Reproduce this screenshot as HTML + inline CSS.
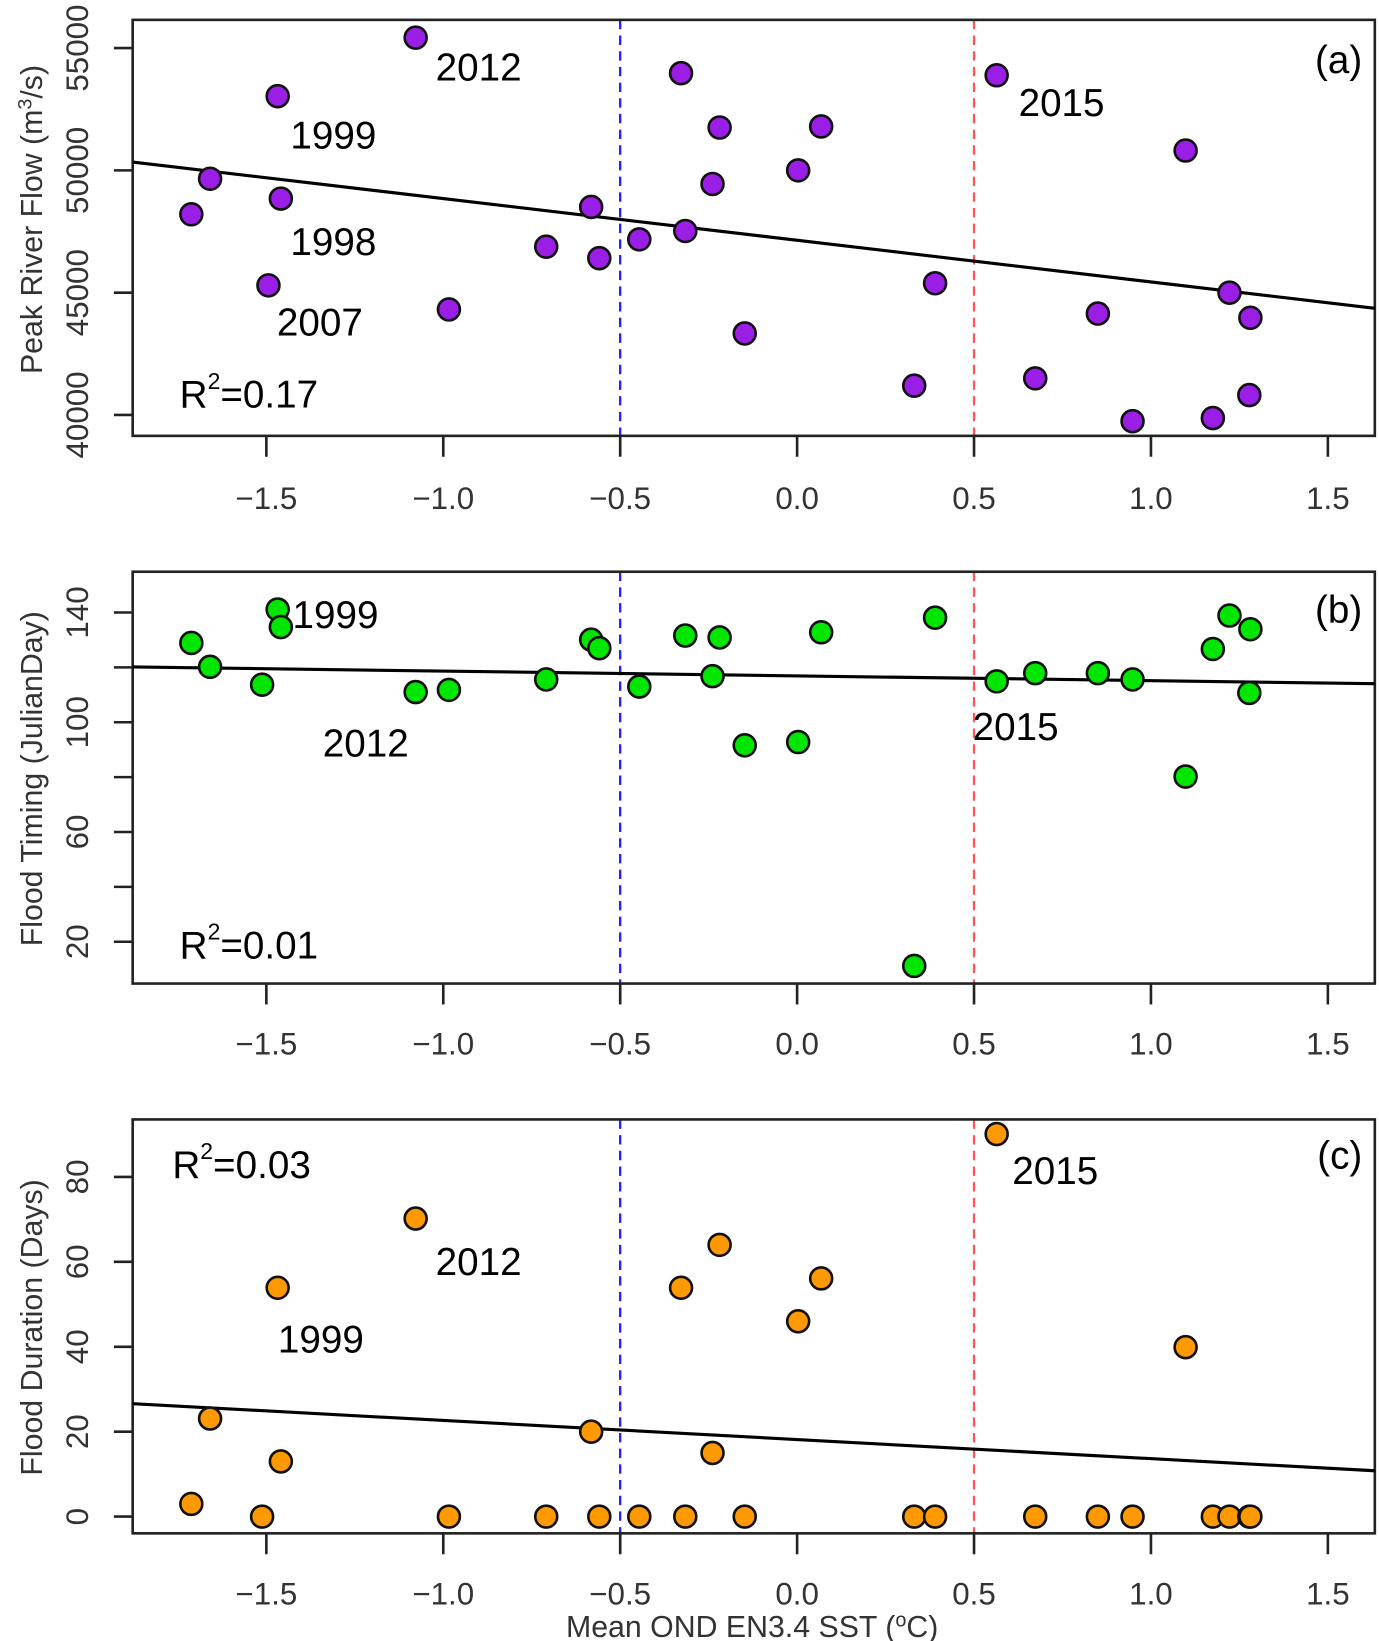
<!DOCTYPE html>
<html><head><meta charset="utf-8"><style>
html,body{margin:0;padding:0;background:#fff}
svg{display:block}
text{font-family:"Liberation Sans",sans-serif}
.tick{fill:#333;font-size:30px}
.ann{fill:#000;font-size:37px}
.ttl{fill:#333;font-size:29px}
</style></head><body>
<svg id="chart" width="1379" height="1641" viewBox="0 0 1320 1570" preserveAspectRatio="none" xmlns="http://www.w3.org/2000/svg"></svg>
<script>
// Panel (a) data
const xA = [-1.712,-1.659,-1.494,-1.468,-1.459,-1.078,-0.984,-0.709,-0.582,-0.559,-0.446,-0.328,-0.316,-0.239,-0.219,-0.148,0.003,0.068,0.331,0.390,0.564,0.673,0.850,0.948,1.098,1.175,1.222,1.278,1.281];
const yA = [48205,49658,45299,53034,48846,55427,44316,46880,48504,46410,47179,53974,47521,49444,51752,43333,50000,51795,41197,45385,53889,41496,44145,39744,50812,39872,45000,40812,43974];
// Panel (b) data
const xB = [-1.712,-1.659,-1.512,-1.468,-1.459,-1.078,-0.984,-0.709,-0.582,-0.559,-0.446,-0.316,-0.239,-0.219,-0.148,0.003,0.068,0.331,0.390,0.564,0.673,0.850,0.948,1.098,1.175,1.222,1.278,1.281];
const yB = [128.9,120.2,113.7,141.1,134.7,111.0,111.8,115.6,130.1,127.0,113.0,131.6,116.8,130.9,91.6,92.8,132.8,11.2,138.1,114.9,117.9,117.9,115.6,80.2,126.7,138.9,110.7,133.9];
// Panel (c) data
const xC = [-1.712,-1.659,-1.512,-1.468,-1.459,-1.078,-0.984,-0.709,-0.582,-0.559,-0.446,-0.328,-0.316,-0.239,-0.219,-0.148,0.003,0.068,0.331,0.390,0.564,0.673,0.850,0.948,1.098,1.175,1.222,1.278,1.281];
const yC = [3,23.1,0,53.9,13,70.2,0,0,20,0,0,53.9,0,15,64,0,46,56.1,0,0,90.1,0,0,0,39.9,0,0,0,0];
// Regression (intercept, slope)
const fitA = [47142,-1704];
const fitB = [116.9,-1.74];
const fitC = [18.15,-4.5];
const xTicks = [-1.5,-1.0,-0.5,0.0,0.5,1.0,1.5];
const xTickLabels = ["\u22121.5","\u22121.0","\u22120.5","0.0","0.5","1.0","1.5"];
const yTicksA = [40000,45000,50000,55000];
const yLabelsA = ["40000","45000","50000","55000"];
const yTicksB = [20,40,60,80,100,120,140];
const yLabelsB = ["20","","60","","100","","140"];
const yTicksC = [0,20,40,60,80];
const yLabelsC = ["0","20","40","60","80"];

const NS="http://www.w3.org/2000/svg";
const svg=document.getElementById('chart');
function mk(tag,attrs,parent){const e=document.createElementNS(NS,tag);for(const k in attrs)e.setAttribute(k,attrs[k]);(parent||svg).appendChild(e);return e;}
const L=127,R=1316;
function X(v){return 763+v*338.7;}
const xMin=(L-763)/338.7, xMax=(R-763)/338.7;

function panel(cfg){
  const g=mk('g',{});
  
  
  const Y=v=>cfg.y0px+(v-cfg.y0)*cfg.k;
  const d1=mk('line',{x1:X(-0.5),x2:X(-0.5),y1:cfg.top,y2:cfg.bot,stroke:'#2222ee','stroke-width':2.2,'stroke-dasharray':'9,6'},g);
  
  
  const d2=mk('line',{x1:X(0.5),x2:X(0.5),y1:cfg.top,y2:cfg.bot,stroke:'#ff5555','stroke-width':2.2,'stroke-dasharray':'9,6'},g);
  
  
  const fr=mk('rect',{x:L,y:cfg.top,width:R-L,height:cfg.bot-cfg.top,fill:'none',stroke:'#222','stroke-width':2.5},g);
  
  
  xTicks.forEach((t,i)=>{
    const tl=mk('line',{x1:X(t),x2:X(t),y1:cfg.bot,y2:cfg.bot+20,stroke:'#222','stroke-width':2.5},g);
    
    
    const tx=mk('text',{x:X(t),y:cfg.xlab,'text-anchor':'middle',class:'tick'},g);
    tx.textContent=xTickLabels[i];
    
    
  });
  cfg.yt.forEach((t,i)=>{
    const tl=mk('line',{x1:L-18,x2:L,y1:Y(t),y2:Y(t),stroke:'#222','stroke-width':2.5},g);
    
    
    if(cfg.yl[i]){
      const tx=mk('text',{x:0,y:0,'text-anchor':'middle',class:'tick',transform:`translate(84,${Y(t)}) rotate(-90)`},g);
      tx.textContent=cfg.yl[i];
      
      
    }
  });
  const yt=mk('text',{x:0,y:0,'text-anchor':'middle',class:'ttl',transform:`translate(40,${cfg.ytY}) rotate(-90)`},g);
  yt.innerHTML=cfg.ytitle;
  
  
  const fl=mk('line',{x1:L,x2:R,y1:Y(cfg.fit[0]+cfg.fit[1]*xMin),y2:Y(cfg.fit[0]+cfg.fit[1]*xMax),stroke:'#000','stroke-width':3},g);
  
  
  cfg.xs.forEach((xv,i)=>{
    const c=mk('circle',{cx:X(xv),cy:Y(cfg.ys[i]),r:10.5,fill:cfg.color,stroke:'#111','stroke-width':2.5},g);
    
    
  });
  cfg.ann.forEach(a=>{
    const t=mk('text',{x:a[0],y:a[1],class:'ann','text-anchor':a[3]||'start'},g);
    t.innerHTML=a[2];
    
    
  });
}
panel({name:'panel-a-peak-flow',top:19,bot:417,xlab:487,y0:55000,y0px:46,k:-117/5000,yt:yTicksA,yl:yLabelsA,ytY:210,
  ytitle:'Peak River Flow (m<tspan dy="-10" font-size="19">3</tspan><tspan dy="10">/s)</tspan>',
  fit:fitA,xs:xA,ys:yA,color:'#9a1ee6',
  ann:[[417,77,'2012'],[278,142,'1999'],[278,244,'1998'],[265,321,'2007'],[975,111,'2015'],
       [172,390,'R<tspan dy="-18" font-size="22">2</tspan><tspan dy="18">=0.17</tspan>','start','r-squared-label'],[1304,70,'(a)','end','panel-label']]});
panel({name:'panel-b-flood-timing',top:547,bot:941,xlab:1009,y0:140,y0px:586,k:-52.5/20,yt:yTicksB,yl:yLabelsB,ytY:745,
  ytitle:'Flood Timing (JulianDay)',
  fit:fitB,xs:xB,ys:yB,color:'#00e600',
  ann:[[280,601,'1999'],[309,724,'2012'],[931,708,'2015'],
       [172,917,'R<tspan dy="-18" font-size="22">2</tspan><tspan dy="18">=0.01</tspan>','start','r-squared-label'],[1304,596,'(b)','end','panel-label']]});
panel({name:'panel-c-flood-duration',top:1071,bot:1467,xlab:1535,y0:0,y0px:1451,k:-81.25/20,yt:yTicksC,yl:yLabelsC,ytY:1270,
  ytitle:'Flood Duration (Days)',
  fit:fitC,xs:xC,ys:yC,color:'#ff9900',
  ann:[[165,1127,'R<tspan dy="-18" font-size="22">2</tspan><tspan dy="18">=0.03</tspan>','start','r-squared-label'],
       [969,1133,'2015'],[417,1220,'2012'],[266,1294,'1999'],[1304,1118,'(c)','end','panel-label']]});
const xt=mk('text',{x:720,y:1566,'text-anchor':'middle',class:'ttl'});
xt.innerHTML='Mean OND EN3.4 SST (<tspan dy="-10" font-size="19">o</tspan><tspan dy="10">C)</tspan>';


</script>
</body></html>
